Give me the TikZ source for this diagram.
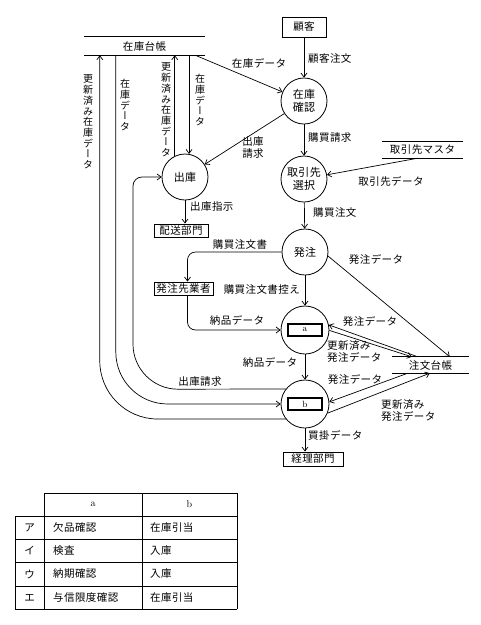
\documentclass[tikz,border=0pt]{standalone}
\usepackage{fontspec}
\newfontfamily\jp[LetterSpace=4]{Noto Sans CJK JP}
\newfontfamily\vjp[RawFeature=+vert]{Noto Sans CJK JP}
\usetikzlibrary{arrows.meta,calc}
\begin{document}
\begin{tikzpicture}[x=1pt,y=-1pt,
  every node/.style={font=\jp\fontsize{10.5}{12}\selectfont, inner sep=0pt},
  proc/.style={draw, circle, minimum size=46pt, inner sep=0pt, align=center, line width=0.8pt, font=\jp\fontsize{11}{13}\selectfont},
  ent/.style={draw, rectangle, inner sep=0pt, line width=0.9pt},
  store/.style={rectangle, inner sep=0pt},
  lbl/.style={inner sep=0pt, align=left},
  flow/.style={-{Straight Barb[length=4pt,width=6pt]}, line width=0.7pt},
  vlbl/.style={font=\vjp\fontsize{10}{10.7}\selectfont, align=center, inner sep=0pt},
  tag/.style={draw, rectangle, line width=1.1pt, minimum width=34pt, minimum height=12pt, inner sep=0pt, font=\rmfamily\fontsize{9}{10}\selectfont},
  cell/.style={inner sep=0pt}
]
\fill[white] (0,0) rectangle (481,625);
\useasboundingbox (0,0) rectangle (481,625);

% entities and processes
\node[ent, minimum width=44pt, minimum height=20pt] (kk) at (304,27) {顧客};
\node[proc] (zk) at (304,101) {在庫\\確認};
\node[proc] (tr) at (304,179) {取引先\\選択};
\node[proc] (hc) at (305,252) {発注};
\node[proc, minimum size=48pt] (pa) at (305,330) {};
\node[tag] (ta) at (pa) {a};
\node[proc, minimum size=48pt] (pb) at (305,404) {};
\node[tag] (tb) at (pb) {b};
\node[proc] (sk) at (185,177) {出庫};
\node[ent, minimum width=54pt, minimum height=13pt] (hs) at (181,230.5) {配送部門};
\node[ent, minimum width=59pt, minimum height=13pt] (hg) at (183.5,288.5) {発注先業者};
\node[ent, minimum width=60pt, minimum height=14pt] (kr) at (313,459) {経理部門};

% data stores
\node[store, minimum width=121pt, minimum height=18pt] (zd) at (144.5,46) {在庫台帳};
\node[store, minimum width=81pt, minimum height=16pt] (tm) at (422.5,150) {取引先マスタ};
\node[store, minimum width=77pt, minimum height=16pt] (cd) at (430.5,365) {注文台帳};
\foreach \s in {zd,tm,cd} {
  \draw[line width=0.8pt] (\s.north west) -- (\s.north east) (\s.south west) -- (\s.south east);
}

% waypoints of the 出庫請求 flow
\coordinate (w1) at (178,389.2);
\coordinate (w2) at (133,344.2);
\coordinate (w3) at (133,186);
\coordinate (w4) at (142,177);

% flows
\draw[flow] (kk) -- (zk);
\draw[flow] ($(zd.south east)+(-10,0)$) -- (zk);
\draw[flow] (zk) -- (sk);
\draw[flow] (sk.116) -- (sk.116 |- zd.south);
\draw[flow] (sk.80 |- zd.south) -- (sk.80);
\draw[flow] (zk) -- (tr);
\draw[flow] ($(tm.south west)+(36,0)$) -- (tr);
\draw[flow] (tr) -- (hc);
\draw[flow] (sk.south) -- (sk.south |- hs.north);
\draw[flow, rounded corners=8pt] (hc.west) -| ([xshift=4pt]hg.north);
\draw[flow, rounded corners=8pt] ([xshift=4pt]hg.south) |- (pa.west);
\draw[flow] (hc) -- (pa);
\draw[flow] (hc.-10) -- ($(cd.north west)+(58,0)$);
\draw[flow] ($(cd.north west)+(26,0)$) -- (pa.12);
\draw[flow] (pa.-1) -- ($(cd.north west)+(20,0)$);
\draw[flow] (pa) -- (pb);
\draw[flow] ($(cd.south west)+(16,0)$) -- (pb.5);
\draw[flow] (pb.-22) -- ($(cd.south west)+(38,0)$);
\draw[flow] (pb.south) -- (pb.south |- kr.north);
\draw[flow] (pb.142) -- (w1) .. controls (153.2,389.2) and (133,369) .. (w2) -- (w3) .. controls (133,181) and (137,177) .. (w4) -- (sk.west);
\draw[flow] ($(zd.south west)+(32,0)$) [rounded corners=52pt] |- (pb.west);
\draw[flow] (pb.218) [rounded corners=58pt] -| ($(zd.south west)+(16,0)$);

% labels
\node[lbl, anchor=west] (l1) at (308,59) {顧客注文};
\node[lbl] (l2) at (259,63) {在庫データ};
\node[lbl, align=center] (l3) at (253,148) {出庫\\請求};
\node[lbl, anchor=west] (l4) at (308,138) {購買請求};
\node[lbl] (l5) at (391,181) {取引先データ};
\node[lbl, anchor=west] (l6) at (313,213) {購買注文};
\node[lbl, anchor=west] (l7) at (190,207) {出庫指示};
\node[lbl] (l8) at (240,245) {購買注文書};
\node[lbl, anchor=east] (l9) at (300,290) {購買注文書控え};
\node[lbl] (l10) at (237,320) {納品データ};
\node[lbl] (l11) at (376,259) {発注データ};
\node[lbl] (l12) at (370,321) {発注データ};
\node[lbl, anchor=west] (l13) at (327,352) {更新済み\\発注データ};
\node[lbl] (l14) at (270,362) {納品データ};
\node[lbl] (l15) at (200,382) {出庫請求};
\node[lbl] (l16) at (355,379) {発注データ};
\node[lbl, anchor=west] (l17) at (381,410.5) {更新済み\\発注データ};
\node[lbl, anchor=west] (l18) at (308,435) {買掛データ};

\node[vlbl] (v1) at (166,110) {更\\新\\済\\み\\在\\庫\\デ\\ー\\タ};
\node[vlbl] (v2) at (200,100) {在\\庫\\デ\\ー\\タ};
\node[vlbl] (v3) at (88,122) {更\\新\\済\\み\\在\\庫\\デ\\ー\\タ};
\node[vlbl] (v4) at (125,105) {在\\庫\\デ\\ー\\タ};

% table
\begin{scope}[line width=0.9pt]
\draw (44,493) -- (237,493);
\foreach \yy in {516,539,562,586,609} { \draw (15,\yy) -- (237,\yy); }
\draw (15,516) -- (15,609);
\draw (44,493) -- (44,609);
\draw (142,493) -- (142,609);
\draw (237,493) -- (237,609);
\end{scope}
\node[cell, font=\rmfamily\fontsize{10}{12}\selectfont] (ha) at (93,504.5) {a};
\node[cell, font=\rmfamily\fontsize{10}{12}\selectfont] (hb) at (189.5,504.5) {b};
\node[cell] (r1) at (29.5,527.5) {ア};
\node[cell] (r2) at (29.5,550.5) {イ};
\node[cell] (r3) at (29.5,574) {ウ};
\node[cell] (r4) at (29.5,597.5) {エ};
\node[cell, anchor=west] (a1) at (53,527.5) {欠品確認};
\node[cell, anchor=west] (a2) at (53,550.5) {検査};
\node[cell, anchor=west] (a3) at (53,574) {納期確認};
\node[cell, anchor=west] (a4) at (53,597.5) {与信限度確認};
\node[cell, anchor=west] (b1) at (150,527.5) {在庫引当};
\node[cell, anchor=west] (b2) at (150,550.5) {入庫};
\node[cell, anchor=west] (b3) at (150,574) {入庫};
\node[cell, anchor=west] (b4) at (150,597.5) {在庫引当};
\end{tikzpicture}
\end{document}
